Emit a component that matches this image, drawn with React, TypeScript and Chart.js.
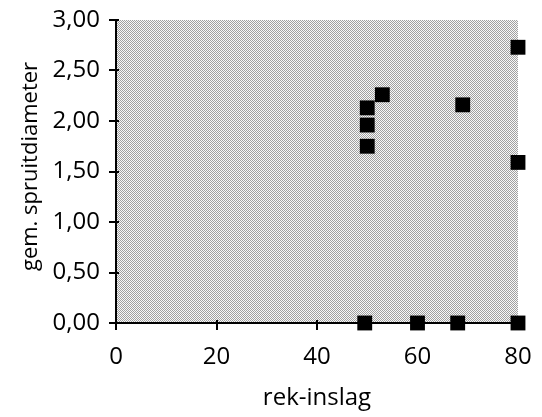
import React, { useEffect, useRef } from "react";
import { Chart, registerables } from "chart.js";

Chart.register(...registerables);

const rekInslag = [49.5, 60, 68, 80, 50, 50, 50, 53, 69, 80, 80];
const spruitDiameter = [0, 0, 0, 0, 1.75, 1.96, 2.13, 2.26, 2.16, 2.73, 1.59];
const xTitle = "rek-inslag";
const yTitle = "gem. spruitdiameter";
const FONT = "'Open Sans', sans-serif";

function makePattern(ctx: CanvasRenderingContext2D) {
  const c = document.createElement("canvas");
  c.width = 2;
  c.height = 2;
  const p = c.getContext("2d")!;
  p.fillStyle = "#f8f8f8";
  p.fillRect(0, 0, 2, 2);
  p.fillStyle = "#a0a0a0";
  p.fillRect(0, 0, 1, 1);
  p.fillRect(1, 1, 1, 1);
  return ctx.createPattern(c, "repeat");
}

const decorPlugin = {
  id: "decor",
  beforeDatasetsDraw(chart: any) {
    const { ctx, chartArea } = chart;
    ctx.save();
    const pat = makePattern(ctx);
    ctx.fillStyle = pat || "#cccccc";
    ctx.fillRect(chartArea.left + 1, chartArea.top, chartArea.right - chartArea.left - 1, chartArea.bottom - chartArea.top - 1);
    ctx.strokeStyle = "#000";
    ctx.lineWidth = 2;
    const xs = chart.scales.x;
    const ys = chart.scales.y;
    xs.ticks.forEach((t: any) => {
      const px = Math.round(xs.getPixelForValue(t.value));
      ctx.beginPath();
      ctx.moveTo(px, chartArea.bottom);
      ctx.lineTo(px, chartArea.bottom - 3);
      ctx.stroke();
    });
    ys.ticks.forEach((t: any) => {
      const py = Math.round(ys.getPixelForValue(t.value));
      ctx.beginPath();
      ctx.moveTo(chartArea.left, py);
      ctx.lineTo(chartArea.left + 3, py);
      ctx.stroke();
    });
    ctx.restore();
  },
  afterDraw(chart: any) {
    const { ctx, chartArea } = chart;
    ctx.save();
    ctx.fillStyle = "#000";
    ctx.textAlign = "center";
    ctx.textBaseline = "middle";
    ctx.font = `24px ${FONT}`;
    ctx.fillText(xTitle, (chartArea.left + chartArea.right) / 2, 390);
    ctx.font = `22px ${FONT}`;
    ctx.translate(23, (chartArea.top + chartArea.bottom) / 2 - 5);
    ctx.rotate(-Math.PI / 2);
    ctx.fillText(yTitle, 0, 0);
    ctx.restore();
  },
};

export default function App() {
  const ref = useRef<HTMLCanvasElement | null>(null);
  useEffect(() => {
    if (!ref.current) return;
    const chart = new Chart(ref.current, {
      type: "scatter",
      data: {
        datasets: [
          {
            data: rekInslag.map((x, i) => ({ x, y: spruitDiameter[i] })),
            pointStyle: "rect",
            pointRadius: 10.5,
            pointHoverRadius: 10.5,
            backgroundColor: "#000",
            borderColor: "#000",
            borderWidth: 0,
            clip: false as any,
          },
        ],
      },
      options: {
        animation: false,
        responsive: true,
        maintainAspectRatio: false,
        layout: { padding: { top: 12, right: 16, left: 0, bottom: 0 } },
        plugins: { legend: { display: false }, tooltip: { enabled: false } },
        scales: {
          x: {
            type: "linear",
            min: 0,
            max: 80,
            afterFit: (s: any) => {
              s.height = 94;
              s.paddingLeft = 0;
              s.paddingRight = 0;
            },
            border: { display: true, color: "#000", width: 2 },
            grid: { display: true, drawOnChartArea: false, drawTicks: true, tickLength: 7, color: "#000", lineWidth: 2 },
            ticks: { stepSize: 20, color: "#000", font: { family: FONT, size: 24 }, padding: 13, maxRotation: 0 },
          },
          y: {
            type: "linear",
            min: 0,
            max: 3,
            afterFit: (s: any) => {
              s.width = 108;
              s.paddingTop = 0;
              s.paddingBottom = 0;
            },
            border: { display: true, color: "#000", width: 2 },
            grid: { display: true, drawOnChartArea: false, drawTicks: true, tickLength: 7, color: "#000", lineWidth: 2 },
            ticks: {
              stepSize: 0.5,
              color: "#000",
              font: { family: FONT, size: 24 },
              padding: 9,
              callback: (v: any) => Number(v).toFixed(2).replace(".", ","),
            },
          },
        },
      },
      plugins: [decorPlugin],
    });
    return () => chart.destroy();
  }, []);
  return (
    <div style={{ width: 526, height: 409, position: "relative" }}>
      <canvas ref={ref} />
    </div>
  );
}
